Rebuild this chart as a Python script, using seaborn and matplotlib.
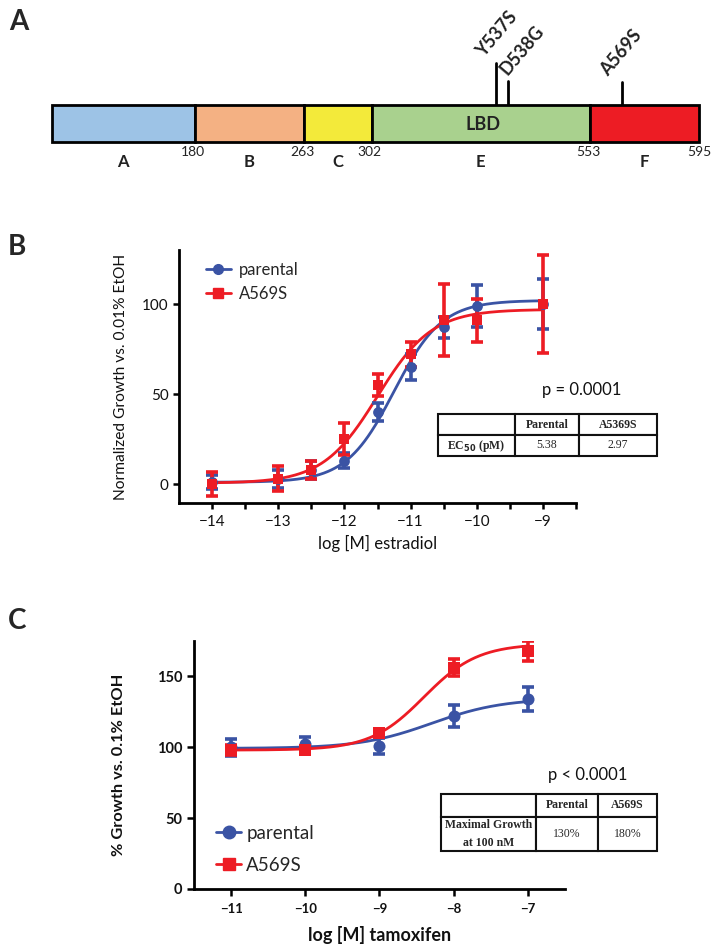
import numpy as np
import pandas as pd
import matplotlib
matplotlib.use("Agg")
import matplotlib.pyplot as plt
from matplotlib.lines import Line2D
import seaborn as sns

# ---------------- data ----------------
# Panel A (schematic of ER domains)
domain_names = ["A", "B", "C", "E", "F"]
domain_end_labels = ["180", "263", "302", "553", "595"]
mutation_names = ["Y537S", "D538G", "A569S"]

# Panel B (estradiol dose response)
b_logconc = [-14, -13, -12.5, -12, -11.5, -11, -10.5, -10, -9]
b_parental = [1, 3, 8, 13, 40, 65, 87, 99, 100]
b_parental_err = [4, 5, 5, 4, 5, 7, 6, 11.5, 13.7]
b_a569s = [0, 3, 8, 25, 55, 72, 91, 91, 100]
b_a569s_err = [6.5, 7, 5, 9, 6, 7, 20, 12, 27]
b_fit_parental = dict(bottom=1, top=102, logec50=-11.25, hill=1.2)
b_fit_a569s = dict(bottom=0.5, top=97, logec50=-11.5, hill=1.05)
b_table_cols = ["", "Parental", "A5369S"]
b_table_row = ["EC$_{\\mathbf{50}}$ (pM)", "5.38", "2.97"]
b_pvalue = "p = 0.0001"

# Panel C (tamoxifen dose response)
c_logconc = [-11, -10, -9, -8, -7]
c_parental = [100, 102, 101, 122, 134]
c_parental_err = [6, 5, 5.5, 7.5, 8.5]
c_a569s = [98, 98, 110, 156, 168]
c_a569s_err = [3.5, 3, 3, 6, 7]
c_fit_parental = dict(bottom=99.2, top=134.5, logec50=-8.3, hill=0.9)
c_fit_a569s = dict(bottom=98, top=173, logec50=-8.4, hill=1.2)
c_table_cols = ["", "Parental", "A569S"]
c_table_row = ["Maximal Growth\nat 100 nM", "130%", "180%"]
c_pvalue = "p < 0.0001"

series_names = ["parental", "A569S"]

# ---------------- style ----------------
sns.set_theme(style="ticks")
plt.rcParams["font.family"] = ["Lato", "DejaVu Sans"]
BLUE = "#3a53a4"
RED = "#ed1c24"
W, H = 714, 950
fig = plt.figure(figsize=(W / 100, H / 100), dpi=100)


def fx(px):
    return px / W


def fy(py):
    return 1 - py / H


def four_pl(x, bottom, top, logec50, hill):
    return bottom + (top - bottom) / (1 + 10 ** ((logec50 - x) * hill))


# ---------------- Panel A ----------------
axA = fig.add_axes([0, 0, 1, 1])
axA.set_xlim(0, W)
axA.set_ylim(H, 0)
axA.axis("off")
seg_edges = [52, 194.5, 304, 371.6, 590, 699]  # schematic (not to scale) layout
seg_colors = ["#9dc3e6", "#f4b183", "#f3ea3a", "#a9d18e", "#ed1c24"]
dfA = pd.DataFrame({"name": domain_names,
                    "left": seg_edges[:-1],
                    "width": np.diff(seg_edges)})
axA.barh([123.5] * len(dfA), dfA["width"], left=dfA["left"], height=37,
         color=seg_colors, edgecolor="black", linewidth=2, zorder=2)
for i, nm in enumerate(domain_names):
    cx = seg_edges[i] + (seg_edges[i + 1] - seg_edges[i]) / 2
    axA.text(cx, 162, nm, ha="center", va="center", fontsize=12, fontweight="bold",
             color="#222222")
for i, lab in enumerate(domain_end_labels):
    axA.text(seg_edges[i + 1] + (-2 if i < 4 else 0), 152, lab, ha="center", va="center",
             fontsize=10, color="#222222")
axA.text(483, 125, "LBD", ha="center", va="center", fontsize=13, fontweight="bold",
         color="#222222")
mut_x = [496, 508, 622]
mut_top = [63, 81, 82]
lab_dx = [-10, 2, -12]
for nm, xx, tt, dx in zip(mutation_names, mut_x, mut_top, lab_dx):
    axA.plot([xx, xx], [tt, 105], color="black", lw=2, zorder=1)
    axA.text(xx + dx, tt - 3, nm, rotation=50, rotation_mode="anchor", ha="left",
             va="bottom", fontsize=13, fontweight="bold", color="#222222")

fig.text(fx(9), fy(22), "A", fontsize=20, fontweight="bold", va="center", ha="left")
fig.text(fx(8), fy(247), "B", fontsize=20, fontweight="bold", va="center", ha="left")
fig.text(fx(8), fy(621), "C", fontsize=20, fontweight="bold", va="center", ha="left")


# ---------------- dose-response helper ----------------
def draw_panel(ax, x, ys, errs, fits, msize, lw_err, cap):
    xs = np.linspace(min(x), max(x), 300)
    order = [1, 0]  # draw A569S first, parental on top
    colors = [BLUE, RED]
    markers = ["o", "s"]
    for k in order:
        curve = pd.DataFrame({"x": xs, "y": four_pl(xs, **fits[k])})
        sns.lineplot(data=curve, x="x", y="y", ax=ax, color=colors[k], lw=2,
                     zorder=3 + k)
        ax.errorbar(x, ys[k], yerr=errs[k], fmt="none", ecolor=colors[k],
                    elinewidth=lw_err, capsize=cap, capthick=lw_err, zorder=4 + k)
        pts = pd.DataFrame({"x": x, "y": ys[k]})
        sns.scatterplot(data=pts, x="x", y="y", ax=ax, color=colors[k],
                        marker=markers[k], s=msize, edgecolor=colors[k],
                        linewidth=0, zorder=5 + k)
    ax.set_xlabel("")
    ax.set_ylabel("")


# ---------------- Panel B ----------------
bl, br, bt, bb = 179, 576, 250, 503
axB = fig.add_axes([fx(bl), fy(bb), fx(br - bl), (bb - bt) / H])
draw_panel(axB, b_logconc, [b_parental, b_a569s], [b_parental_err, b_a569s_err],
           [b_fit_parental, b_fit_a569s], msize=60, lw_err=2.6, cap=4)
axB.set_xlim(-14.5, -8.5)
axB.set_ylim(-10.5, 130)
axB.set_xticks([-14, -13, -12, -11, -10, -9])
axB.set_xticks([-13.5, -12.5, -11.5, -10.5, -9.5, -8.5], minor=True)
axB.set_yticks([0, 50, 100])
axB.tick_params(axis="both", which="both", direction="out", length=4, width=1.8,
                labelsize=11, color="black", labelcolor="#111111")
axB.tick_params(axis="x", pad=5)
for s in ["top", "right"]:
    axB.spines[s].set_visible(False)
for s in ["left", "bottom"]:
    axB.spines[s].set_linewidth(2)
    axB.spines[s].set_color("black")
axB.set_xlabel("log [M] estradiol", fontsize=12, labelpad=4, color="#111111")
axB.set_ylabel("Normalized Growth vs. 0.01% EtOH", fontsize=11.2, labelpad=10,
               color="#111111")
handlesB = [Line2D([], [], color=BLUE, marker="o", markersize=7, lw=2),
            Line2D([], [], color=RED, marker="s", markersize=7, lw=2)]
axB.legend(handlesB, series_names, loc="upper left", bbox_to_anchor=(0.05, 0.98),
           frameon=False, fontsize=12, handlelength=1.5, handletextpad=0.5,
           labelspacing=0.5, borderaxespad=0)
axB.text((582 - bl) / (br - bl), (bb - 390) / (bb - bt), b_pvalue,
         transform=axB.transAxes, ha="center", va="center", fontsize=12,
         color="#111111")
tB = axB.table(cellText=[b_table_row], colLabels=b_table_cols, cellLoc="center",
               bbox=[(438 - bl) / (br - bl), (bb - 456) / (bb - bt),
                     (657 - 438) / (br - bl), (456 - 414) / (bb - bt)],
               colWidths=[77, 64, 78])
tB.auto_set_font_size(False)
for (r, c), cell in tB.get_celld().items():
    cell.set_linewidth(1.5)
    cell.set_edgecolor("#111111")
    bold = (r == 0) or (c == 0)
    cell.get_text().set_fontfamily(["Liberation Serif"])
    cell.get_text().set_fontsize(8.5)
    cell.get_text().set_fontweight("bold" if bold else "normal")

# ---------------- Panel C ----------------
cl, cr, ct, cb = 194, 565, 641, 889
axC = fig.add_axes([fx(cl), fy(cb), fx(cr - cl), (cb - ct) / H])
draw_panel(axC, c_logconc, [c_parental, c_a569s], [c_parental_err, c_a569s_err],
           [c_fit_parental, c_fit_a569s], msize=75, lw_err=2.6, cap=4)
axC.set_xlim(-11.5, -6.5)
axC.set_ylim(0, 175)
axC.set_xticks([-11, -10, -9, -8, -7])
axC.set_yticks([0, 50, 100, 150])
axC.tick_params(axis="both", which="both", direction="out", length=5, width=1.8,
                labelsize=10.5, color="black", labelcolor="#111111")
axC.tick_params(axis="x", pad=5, labelsize=9.5)
for lab in axC.get_xticklabels() + axC.get_yticklabels():
    lab.set_fontweight("bold")
for s in ["top", "right"]:
    axC.spines[s].set_visible(False)
for s in ["left", "bottom"]:
    axC.spines[s].set_linewidth(2)
    axC.spines[s].set_color("black")
axC.set_xlabel("log [M] tamoxifen", fontsize=13, fontweight="bold", labelpad=8,
               color="#111111")
axC.set_ylabel("% Growth vs. 0.1% EtOH", fontsize=11.8, fontweight="bold",
               labelpad=22, color="#111111")
handlesC = [Line2D([], [], color=BLUE, marker="o", markersize=9, lw=2),
            Line2D([], [], color=RED, marker="s", markersize=9, lw=2)]
axC.legend(handlesC, series_names, loc="lower left", bbox_to_anchor=(0.04, 0.03),
           frameon=False, fontsize=13.5, handlelength=1.3, handletextpad=0.3,
           labelspacing=0.8, borderaxespad=0)
axC.text((588 - cl) / (cr - cl), (cb - 775) / (cb - ct), c_pvalue,
         transform=axC.transAxes, ha="center", va="center", fontsize=12,
         color="#111111")
tC = axC.table(cellText=[c_table_row], colLabels=c_table_cols, cellLoc="center",
               bbox=[(441 - cl) / (cr - cl), (cb - 851) / (cb - ct),
                     (657 - 441) / (cr - cl), (851 - 794) / (cb - ct)],
               colWidths=[95, 62, 59])
tC.auto_set_font_size(False)
for (r, c), cell in tC.get_celld().items():
    cell.set_linewidth(1.5)
    cell.set_edgecolor("#111111")
    bold = (r == 0) or (c == 0)
    cell.get_text().set_fontfamily(["Liberation Serif"])
    cell.get_text().set_fontsize(8.5)
    cell.get_text().set_fontweight("bold" if bold else "normal")
    cell.get_text().set_linespacing(1.6)
    if r == 0:
        cell.set_height(23)
    else:
        cell.set_height(34)

fig.savefig("out.png", dpi=100)
